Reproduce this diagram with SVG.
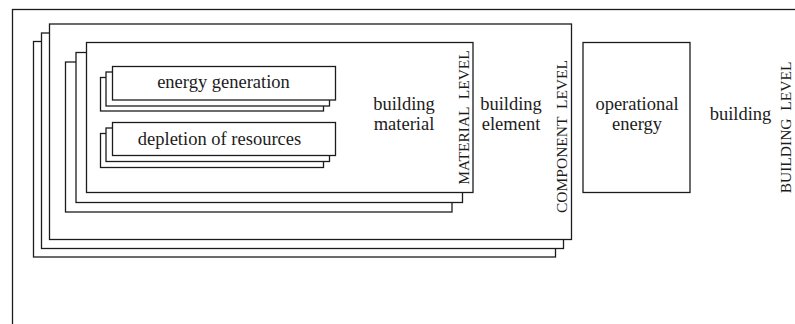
<svg xmlns="http://www.w3.org/2000/svg" width="795" height="324" viewBox="0 0 795 324">
<style>
rect{fill:#fff;stroke:#1c1c1c;stroke-width:1.3}
text{font-family:"Liberation Serif","Times New Roman",serif;fill:#1c1c1c}
.t{font-size:18.5px;text-anchor:middle}
.lv{font-size:15.5px;text-anchor:middle;white-space:pre}
</style>
<rect width="795" height="324" style="fill:#fff;stroke:none"/>
<g id="building-level">
<rect x="12.5" y="9.5" width="800" height="400"/>
<text class="t" x="740.5" y="120">building</text>
<text class="lv" transform="translate(791,127.5) rotate(-90)">BUILDING  LEVEL</text>
</g>
<g id="component-level">
<rect x="33.5" y="41.5" width="522" height="215.5"/>
<rect x="41.5" y="33" width="522" height="215.5"/>
<rect x="49.5" y="24" width="522" height="215.5"/>
<text class="t" x="511" y="109.5">building</text>
<text class="t" x="511" y="129.5">element</text>
<text class="lv" transform="translate(567,136.5) rotate(-90)">COMPONENT  LEVEL</text>
</g>
<g id="material-level">
<rect x="65.5" y="62" width="386.5" height="150"/>
<rect x="76" y="52.5" width="386.5" height="150"/>
<rect x="86.5" y="42.5" width="386.5" height="150"/>
<text class="t" x="404" y="109.5">building</text>
<text class="t" x="404" y="129.5">material</text>
<text class="lv" transform="translate(469,117.5) rotate(-90)">MATERIAL  LEVEL</text>
</g>
<g id="energy-generation">
<rect x="100.5" y="77.5" width="223" height="33.5"/>
<rect x="106" y="72" width="223.5" height="34"/>
<rect x="112.5" y="66.5" width="223" height="33.5"/>
<text class="t" x="223.5" y="88">energy generation</text>
</g>
<g id="depletion-of-resources">
<rect x="100.5" y="133.5" width="223" height="34"/>
<rect x="106" y="128" width="223.5" height="33.5"/>
<rect x="112.5" y="122.5" width="223" height="33"/>
<text class="t" x="219.5" y="144.5">depletion of resources</text>
</g>
<g id="operational-energy">
<rect x="583" y="42.5" width="107" height="150"/>
<text class="t" x="637" y="109.5">operational</text>
<text class="t" x="637" y="129.5">energy</text>
</g>
</svg>
